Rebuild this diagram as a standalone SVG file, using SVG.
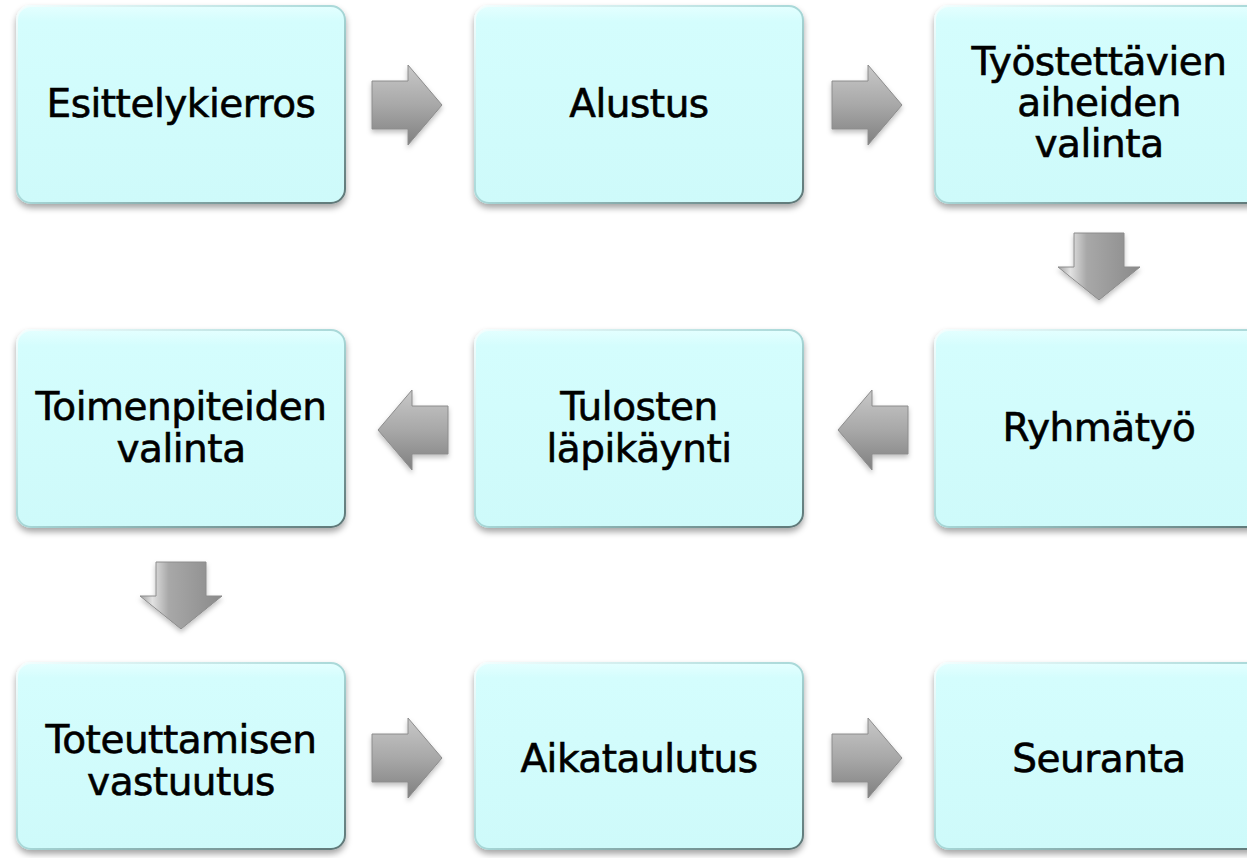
<svg xmlns="http://www.w3.org/2000/svg" width="1247" height="858" viewBox="0 0 1247 858">
  <defs>
    <linearGradient id="boxFill" x1="0" y1="0" x2="0" y2="1">
      <stop offset="0" stop-color="#e4ffff"/>
      <stop offset="0.08" stop-color="#d4fdfd"/>
      <stop offset="1" stop-color="#cefafa"/>
    </linearGradient>
    <linearGradient id="boxRim" x1="0" y1="0" x2="1" y2="1">
      <stop offset="0" stop-color="#f4ffff"/>
      <stop offset="0.5" stop-color="#a8d8d8"/>
      <stop offset="1" stop-color="#5e7676"/>
    </linearGradient>
    <linearGradient id="arrowH" x1="0" y1="0" x2="0" y2="1">
      <stop offset="0" stop-color="#c8c8c8"/>
      <stop offset="0.5" stop-color="#a8a8a8"/>
      <stop offset="1" stop-color="#808080"/>
    </linearGradient>
    <linearGradient id="arrowV" x1="0" y1="0" x2="1" y2="0">
      <stop offset="0" stop-color="#a0a0a0"/>
      <stop offset="0.15" stop-color="#e2e2e2"/>
      <stop offset="0.35" stop-color="#a8a8a8"/>
      <stop offset="1" stop-color="#8a8a8a"/>
    </linearGradient>
    <filter id="boxShadow" x="-10%" y="-10%" width="120%" height="125%">
      <feDropShadow dx="0" dy="4" stdDeviation="3" flood-color="#000" flood-opacity="0.35"/>
    </filter>
    <filter id="arrowShadow" x="-20%" y="-20%" width="140%" height="150%">
      <feDropShadow dx="0" dy="3" stdDeviation="2.5" flood-color="#000" flood-opacity="0.25"/>
    </filter>
    <!-- reusable arrow shapes, origin at the arrow's start -->
    <path id="rightArrow" d="M0,-24 H36 V-40 L70,0 L36,40 V24 H0 Z"/>
    <path id="downArrow" d="M-25,0 H25 V34 H41 L0,67 L-41,34 H-25 Z"/>
  </defs>
  <style>
    .box { fill: url(#boxFill); stroke: url(#boxRim); stroke-width: 2; filter: url(#boxShadow); }
    .label { font-family: "DejaVu Sans", sans-serif; font-size: 39px; letter-spacing: -0.5px; fill: #000; stroke: #000; stroke-width: 0.6; text-anchor: middle; }
    .harrow { fill: url(#arrowH); stroke: #8c8c8c; stroke-width: 1; filter: url(#arrowShadow); }
    .varrow { fill: url(#arrowV); stroke: #8c8c8c; stroke-width: 1; filter: url(#arrowShadow); }
  </style>
  <rect width="1247" height="858" fill="#fff"/>

  <!-- connectors -->
  <g id="connectors">
    <use href="#rightArrow" class="harrow" transform="translate(372,105)"/>
    <use href="#rightArrow" class="harrow" transform="translate(832,105)"/>
    <use href="#downArrow" class="varrow" transform="translate(1099,233)"/>
    <use href="#rightArrow" class="harrow" transform="translate(908,430) scale(-1,1)"/>
    <use href="#rightArrow" class="harrow" transform="translate(448,430) scale(-1,1)"/>
    <use href="#downArrow" class="varrow" transform="translate(181,562)"/>
    <use href="#rightArrow" class="harrow" transform="translate(372,758)"/>
    <use href="#rightArrow" class="harrow" transform="translate(832,758)"/>
  </g>

  <!-- row 1 -->
  <g id="node-esittelykierros">
    <rect class="box" x="17" y="6" width="328" height="197" rx="14"/>
    <text class="label" x="181" y="117">Esittelykierros</text>
  </g>
  <g id="node-alustus">
    <rect class="box" x="475" y="6" width="328" height="197" rx="14"/>
    <text class="label" x="639" y="117">Alustus</text>
  </g>
  <g id="node-aiheiden-valinta">
    <rect class="box" x="935" y="6" width="328" height="197" rx="14"/>
    <text class="label" x="1099" y="75">Työstettävien</text>
    <text class="label" x="1099" y="116">aiheiden</text>
    <text class="label" x="1099" y="157">valinta</text>
  </g>

  <!-- row 2 -->
  <g id="node-ryhmatyo">
    <rect class="box" x="935" y="330" width="328" height="197" rx="14"/>
    <text class="label" x="1099" y="441">Ryhmätyö</text>
  </g>
  <g id="node-tulosten-lapikaynti">
    <rect class="box" x="475" y="330" width="328" height="197" rx="14"/>
    <text class="label" x="639" y="420">Tulosten</text>
    <text class="label" x="639" y="462">läpikäynti</text>
  </g>
  <g id="node-toimenpiteiden-valinta">
    <rect class="box" x="17" y="330" width="328" height="197" rx="14"/>
    <text class="label" x="181" y="420">Toimenpiteiden</text>
    <text class="label" x="181" y="462">valinta</text>
  </g>

  <!-- row 3 -->
  <g id="node-toteuttamisen-vastuutus">
    <rect class="box" x="17" y="663" width="328" height="186" rx="14"/>
    <text class="label" x="181" y="753">Toteuttamisen</text>
    <text class="label" x="181" y="795">vastuutus</text>
  </g>
  <g id="node-aikataulutus">
    <rect class="box" x="475" y="663" width="328" height="186" rx="14"/>
    <text class="label" x="639" y="772">Aikataulutus</text>
  </g>
  <g id="node-seuranta">
    <rect class="box" x="935" y="663" width="328" height="186" rx="14"/>
    <text class="label" x="1099" y="772">Seuranta</text>
  </g>
</svg>
